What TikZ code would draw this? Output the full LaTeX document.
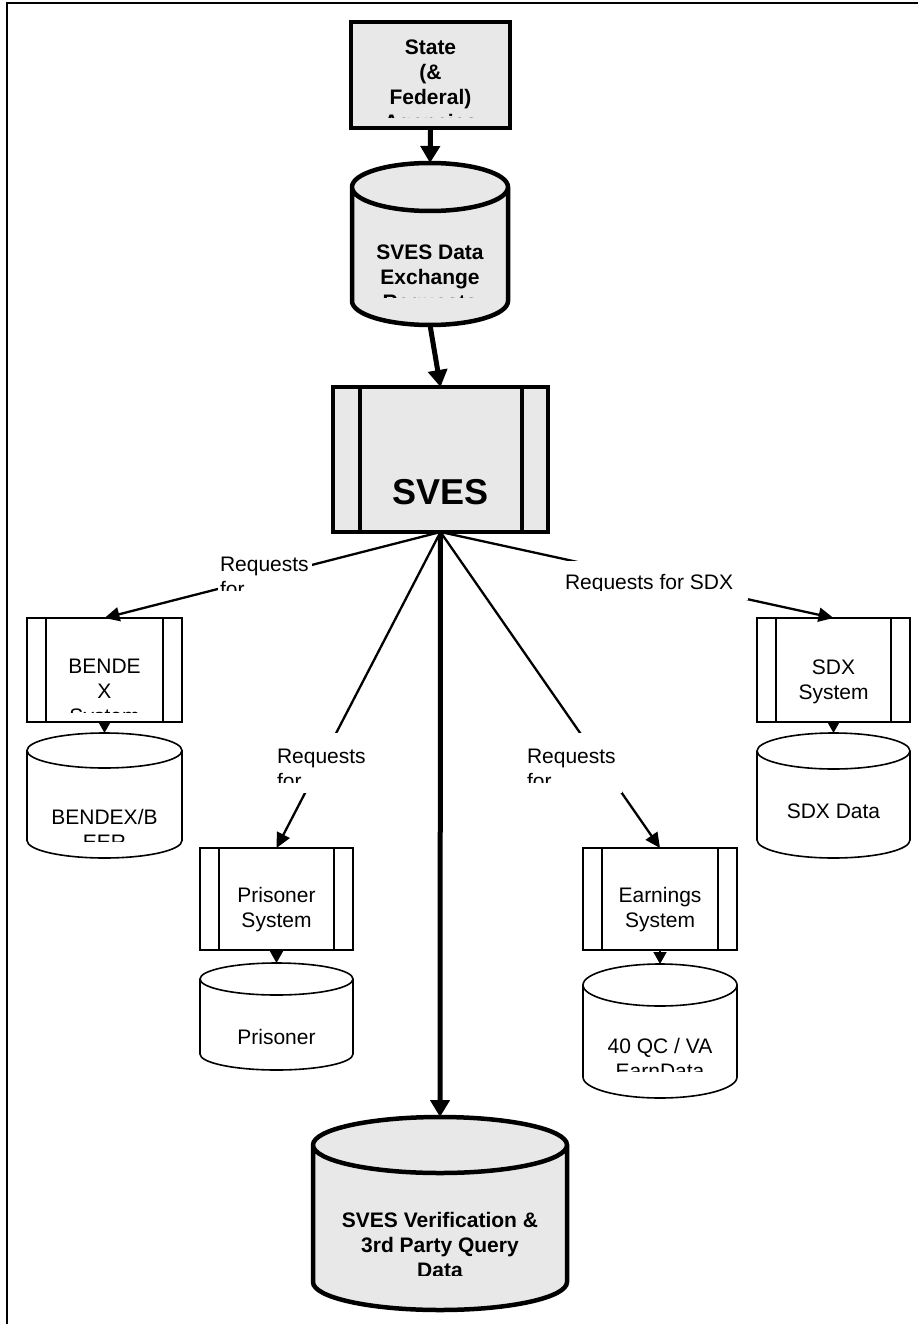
\documentclass[tikz,border=0pt]{standalone}
\usepackage{fontspec}
\setmainfont{Liberation Sans}
\usetikzlibrary{arrows.meta}
\definecolor{boxgray}{RGB}{232,232,232}

% database drum: style, name, centre, half width, half height, ellipse radius, text options
\newcommand\dbase[7]{%
  \draw[#1] ([shift={(-#4,-#5+#6)}]#3) -- ([shift={(-#4,#5-#6)}]#3)
    arc[start angle=180,end angle=360,x radius=#4pt,y radius=#6pt]
    -- ([shift={(#4,-#5+#6)}]#3)
    arc[start angle=0,end angle=180,x radius=#4pt,y radius=#6pt] -- cycle
    ([shift={(-#4,-#5+#6)}]#3) arc[start angle=180,end angle=360,x radius=#4pt,y radius=#6pt];
  \node[box, minimum width=2*#4pt, minimum height=2*#5pt, #7] (#2) at (#3) {};
}

\tikzset{
  txt/.style={font=\fontsize{21pt}{25pt}\selectfont},
  btxt/.style={font=\fontsize{21pt}{25pt}\selectfont\bfseries},
  bigtxt/.style={font=\fontsize{36pt}{40pt}\selectfont\bfseries},
  heavy/.style={draw, line width=4.5pt, fill=boxgray},
  light/.style={draw, line width=1.6pt, fill=white},
  box/.style={rectangle, inner sep=0pt, outer sep=0pt},
  lab/.style={rectangle, fill=white, inner sep=0pt, outer sep=0pt},
  cutc/.style n args={4}{path picture={%
    \clip (path picture bounding box.north west) rectangle ([yshift=#3]path picture bounding box.south east);
    \node[#1, anchor=north, align=center, inner sep=0pt, minimum width=0pt, minimum height=0pt]
      at ([yshift=-#2]path picture bounding box.north) {#4};}},
  cutl/.style n args={4}{path picture={%
    \clip (path picture bounding box.north west) rectangle ([yshift=#3]path picture bounding box.south east);
    \node[#1, anchor=north west, align=left, inner sep=0pt, minimum width=0pt, minimum height=0pt]
      at ([xshift=2pt,yshift=-#2]path picture bounding box.north west) {#4};}},
  flow/.style={line width=5pt, -{Triangle[length=17pt,width=19pt]}},
  req/.style={line width=2.3pt, -{Triangle[length=15pt,width=14pt]}},
  feed/.style={line width=1.6pt, -{Triangle[length=12pt,width=13pt]}},
}

\begin{document}
\begin{tikzpicture}[x=1pt,y=-1pt]
	\useasboundingbox (0,0) rectangle (918,1324);
	\draw[line width=1.6pt] (7,1324) -- (7,3) -- (918,3);

	% main chain
	\node[box, heavy, minimum width=159pt, minimum height=106pt,
	  cutc={btxt}{18pt}{10.5pt}{State\\(\&\\Federal)\\Agencies}] (st) at (430.5,75) {};
	\dbase{heavy}{dx}{430,244}{78}{81}{24}{cutc={btxt}{82pt}{27.5pt}{SVES Data\\Exchange\\Requests}}
	\node[box, heavy, minimum width=215pt, minimum height=145pt,
	  cutc={bigtxt}{92pt}{0pt}{SVES}] (sves) at (440.5,459.5) {};
	\draw[line width=4.5pt] ([xshift=27pt]sves.north west) -- ([xshift=27pt]sves.south west)
	  ([xshift=-26pt]sves.north east) -- ([xshift=-26pt]sves.south east);
	\dbase{heavy}{vdb}{440,1213.5}{127}{96.5}{28}{cutc={btxt}{95pt}{35pt}{SVES Verification \&\\3rd Party Query\\Data}}

	% subsystems
	\node[box, light, minimum width=155pt, minimum height=104pt,
	  cutc={txt}{41pt}{10pt}{BENDE\\X\\System}] (bx) at (104.5,670) {};
	\dbase{light}{bdb}{104.5,795.5}{77.5}{62.5}{17.5}{cutc={txt}{76pt}{17pt}{BENDEX/B\\EER}}
	\node[box, light, minimum width=153pt, minimum height=104pt,
	  cutc={txt}{42pt}{0pt}{SDX\\System}] (sx) at (833.5,670) {};
	\dbase{light}{sdb}{833.5,795.5}{76.5}{62.5}{18}{cutc={txt}{71pt}{0pt}{SDX Data}}
	\node[box, light, minimum width=153pt, minimum height=102pt,
	  cutc={txt}{39pt}{0pt}{Prisoner\\System}] (pb) at (276.5,899) {};
	\dbase{light}{pdb}{276.5,1016.5}{76.5}{53.5}{16}{cutc={txt}{66pt}{0pt}{Prisoner}}
	\node[box, light, minimum width=154pt, minimum height=102pt,
	  cutc={txt}{39pt}{0pt}{Earnings\\System}] (eb) at (660,899) {};
	\dbase{light}{edb}{660,1031}{77}{67}{21}{cutc={txt}{74pt}{27pt}{40 QC / VA\\EarnData}}
	\foreach \n in {bx,sx,pb,eb}
		\draw[line width=1.6pt] ([xshift=19pt]\n.north west) -- ([xshift=19pt]\n.south west)
		  ([xshift=-19pt]\n.north east) -- ([xshift=-19pt]\n.south east);

	% connectors
	\draw[flow] (st.south) -- (dx.north);
	\draw[flow] (dx.south) -- (sves.north);
	\draw[flow] (sves.south) -- (vdb.north);
	\draw[req] (sves.south) -- (bx.north);
	\draw[req] (sves.south) -- (pb.north);
	\draw[req] (sves.south) -- (eb.north);
	\draw[req] (sves.south) -- (sx.north);
	\foreach \a/\b in {bx/bdb,sx/sdb,pb/pdb,eb/edb}
		\draw[feed] (\a.south) -- (\b.north);

	% labels on the request lines
	\node[lab, minimum width=94pt, minimum height=46pt, cutl={txt}{7pt}{6pt}{Requests\\for}] (rqb) at (265,573) {};
	\node[lab, minimum width=93pt, minimum height=60pt, cutl={txt}{16pt}{11pt}{Requests\\for}] (rqp) at (321.5,763) {};
	\node[lab, minimum width=97pt, minimum height=60pt, cutl={txt}{16pt}{11pt}{Requests\\for}] (rqe) at (573.5,763) {};
	\node[lab, minimum width=185pt, minimum height=39pt, cutl={txt}{13pt}{10pt}{Requests for SDX}] (rqs) at (655.5,580.5) {};
\end{tikzpicture}
\end{document}
